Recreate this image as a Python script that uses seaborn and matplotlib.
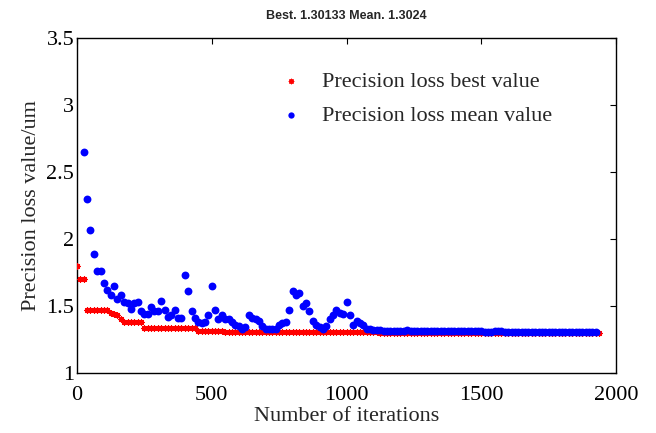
import numpy as np
import pandas as pd
import matplotlib
matplotlib.use("Agg")
import matplotlib.pyplot as plt
import seaborn as sns

# ---------------- data ----------------
step = 12.5  # iteration spacing between recorded generations

best_values = ([1.80] + [1.70] * 2 + [1.47] * 7 + [1.45, 1.44, 1.43, 1.40]
               + [1.38] * 6 + [1.335] * 16 + [1.317] * 8 + [1.309] * 28
               + [1.305] * 18 + [1.30133] * 66)

mean_values = [
    2.65, 2.30, 2.07, 1.89, 1.76, 1.76, 1.67, 1.62, 1.58, 1.65,
    1.55, 1.58, 1.53, 1.52, 1.48, 1.52, 1.53, 1.46, 1.44, 1.44,
    1.49, 1.46, 1.46, 1.54, 1.47, 1.42, 1.43, 1.47, 1.41, 1.41,
    1.73, 1.61, 1.46, 1.41, 1.38, 1.37, 1.38, 1.43, 1.65, 1.47,
    1.40, 1.43, 1.40, 1.40, 1.38, 1.36, 1.35, 1.33, 1.34, 1.43,
    1.41, 1.40, 1.39, 1.35, 1.33, 1.33, 1.33, 1.33, 1.36, 1.37,
    1.38, 1.47, 1.61, 1.58, 1.60, 1.50, 1.52, 1.46, 1.39, 1.36,
    1.34, 1.33, 1.35, 1.40, 1.43, 1.47, 1.45, 1.44, 1.53, 1.43,
    1.36, 1.39, 1.37, 1.36, 1.33, 1.33, 1.32, 1.32, 1.32, 1.31,
    1.31, 1.31, 1.31, 1.31, 1.31, 1.31, 1.32, 1.31, 1.31, 1.31,
    1.31, 1.31, 1.31, 1.31, 1.31, 1.31, 1.31, 1.31, 1.31, 1.31,
    1.31, 1.31, 1.31, 1.31, 1.31, 1.31, 1.31, 1.31, 1.31, 1.305,
    1.305, 1.305, 1.31, 1.31, 1.31,
] + [1.3024] * 28
mean_start = 2  # first mean point shown (earlier ones are above 3.5)

x_ticks = [0, 500, 1000, 1500, 2000]
y_ticks = [1, 1.5, 2, 2.5, 3, 3.5]
y_tick_labels = ["1", "1.5", "2", "2.5", "3", "3.5"]
title_text = "Best. 1.30133 Mean. 1.3024"
label_best = "Precision loss best value"
label_mean = "Precision loss mean value"

best_df = pd.DataFrame({"iter": np.arange(len(best_values)) * step,
                        "value": best_values})
mean_df = pd.DataFrame({"iter": (np.arange(len(mean_values)) + mean_start) * step,
                        "value": mean_values})

# ---------------- style ----------------
sns.set_style("white")
plt.rcParams["font.family"] = ["Liberation Serif", "DejaVu Serif"]
plt.rcParams["xtick.direction"] = "in"
plt.rcParams["ytick.direction"] = "in"

fig = plt.figure(figsize=(6.56, 4.33), dpi=100)
ax = fig.add_axes([77 / 656, 1 - 373 / 433, 539 / 656, 335 / 433])

sns.scatterplot(data=best_df, x="iter", y="value", ax=ax, color="#ff0000",
                marker=(8, 2, 0), s=16, linewidth=0.9, label=label_best,
                zorder=3)
sns.scatterplot(data=mean_df, x="iter", y="value", ax=ax, color="#0000ff",
                marker="o", s=32, linewidth=0, label=label_mean, zorder=4)

ax.set_xlim(0, 2000)
ax.set_ylim(1, 3.5)
ax.set_xticks(x_ticks)
ax.set_yticks(y_ticks)
ax.set_yticklabels(y_tick_labels)
ax.tick_params(axis="both", which="both", labelsize=16, length=4, width=0.8,
               top=True, right=True, colors="black", pad=2)
ax.tick_params(axis="x", pad=9)
for sp in ax.spines.values():
    sp.set_color("black")
    sp.set_linewidth(1.0)
    sp.set_visible(True)

ax.set_xlabel("Number of iterations", fontsize=16, labelpad=2)
ax.set_ylabel("Precision loss value/um", fontsize=16, labelpad=4)
ax.set_title(title_text, fontsize=9, fontweight="bold",
             family=["Liberation Sans", "DejaVu Sans"], pad=14)

leg = ax.legend(loc="upper left", bbox_to_anchor=(0.36, 0.927), frameon=False,
                fontsize=16, handlelength=1.0, handletextpad=0.9,
                labelspacing=0.6, borderaxespad=0, markerscale=0.8)

fig.savefig("out.png", dpi=100, facecolor="white")
